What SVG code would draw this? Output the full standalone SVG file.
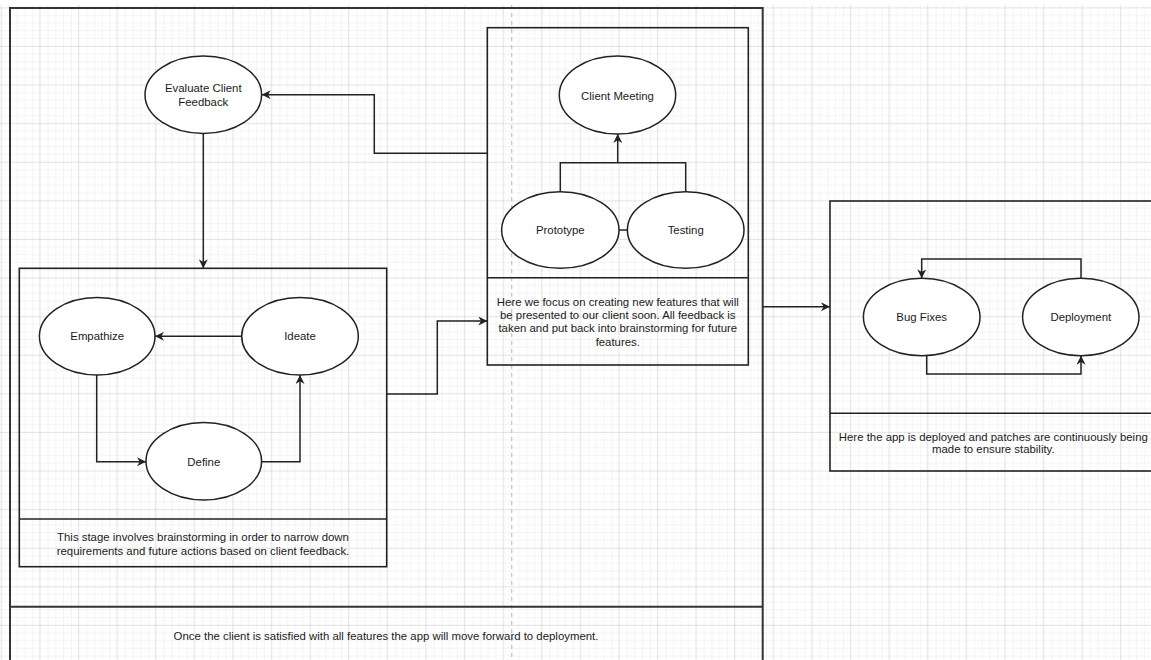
<svg xmlns="http://www.w3.org/2000/svg" width="1151" height="660" viewBox="0 0 1151 660">
  <style>
    .frame { fill: none; stroke: #333; stroke-width: 2; }
    .box { fill: none; stroke: #222; stroke-width: 1.6; }
    .node { fill: #fff; stroke: #222; stroke-width: 1.5; }
    .edge { fill: none; stroke: #222; stroke-width: 1.5; }
    .arrow { marker-end: url(#arr); }
    text { font-family: "Liberation Sans", Arial, sans-serif; font-size: 11.4px; fill: #1a1a1a; text-anchor: middle; }
  </style>
  <defs>
    <pattern id="minor" patternUnits="userSpaceOnUse" x="0.7" y="7.4" width="7.72" height="7.72">
      <path d="M0,0 H7.72 M0,0 V7.72" fill="none" stroke="#e9e9e9" stroke-width="1"/>
    </pattern>
    <pattern id="major" patternUnits="userSpaceOnUse" x="0.7" y="7.4" width="38.6" height="38.6">
      <rect width="38.6" height="38.6" fill="url(#minor)"/>
      <path d="M0,0 H38.6 M0,0 V38.6" fill="none" stroke="#d2d2d2" stroke-width="1"/>
    </pattern>
    <marker id="arr" viewBox="0 0 10 10" refX="10" refY="5" markerWidth="9" markerHeight="9" markerUnits="userSpaceOnUse" orient="auto">
      <path d="M0,0 L10,5 L0,10 L3,5 z" fill="#222"/>
    </marker>
  </defs>

  <!-- canvas and grid -->
  <rect width="1151" height="660" fill="#fff"/>
  <rect x="0" y="5" width="1151" height="655" fill="url(#major)"/>
  <line x1="511.7" y1="5" x2="511.7" y2="660" stroke="#c4c4c4" stroke-width="1.2" stroke-dasharray="4 4"/>

  <!-- outer container with footer strip -->
  <g id="container">
    <path class="frame" d="M10,668 V8 H762.7 V668"/>
    <line class="frame" x1="10" y1="606.7" x2="762.7" y2="606.7"/>
    <text x="386" y="640">Once the client is satisfied with all features the app will move forward to deployment.</text>
  </g>

  <!-- stage boxes -->
  <g id="brainstorm-stage">
    <rect class="box" x="19.3" y="268.3" width="367.4" height="298.4"/>
    <line class="box" x1="19.3" y1="519" x2="386.7" y2="519"/>
    <text x="203" y="540.7">This stage involves brainstorming in order to narrow down</text>
    <text x="203" y="555">requirements and future actions based on client feedback.</text>
  </g>
  <g id="prototype-stage">
    <rect class="box" x="487.3" y="27.7" width="261" height="337.3"/>
    <line class="box" x1="487.3" y1="277.7" x2="748.3" y2="277.7"/>
    <text x="617.8" y="305.7">Here we focus on creating new features that will</text>
    <text x="617.8" y="319">be presented to our client soon. All feedback is</text>
    <text x="617.8" y="332.3">taken and put back into brainstorming for future</text>
    <text x="617.8" y="345.7">features.</text>
  </g>
  <g id="deployment-stage">
    <rect class="box" x="830" y="201" width="327" height="270"/>
    <line class="box" x1="830" y1="413.3" x2="1157" y2="413.3"/>
    <text x="993.3" y="440.7">Here the app is deployed and patches are continuously being</text>
    <text x="993.3" y="453.3">made to ensure stability.</text>
  </g>

  <!-- connectors -->
  <g id="connectors">
    <path class="edge arrow" d="M487.3,153.3 H374.3 V94.7 H261.7"/>
    <path class="edge arrow" d="M203.3,133.3 V268.3"/>
    <path class="edge arrow" d="M386.7,394 H437.3 V321 H487.3"/>
    <path class="edge arrow" d="M762.7,306.7 H830"/>
    <path class="edge arrow" d="M241.7,336.3 H155"/>
    <path class="edge arrow" d="M96.7,375 V461.7 H146"/>
    <path class="edge arrow" d="M261.7,461.7 H300 V375"/>
    <path class="edge" d="M619,230 H627.3"/>
    <path class="edge" d="M560.3,191.7 V162.7 H685.7 V191.7"/>
    <path class="edge arrow" d="M617.7,162.7 V134"/>
    <path class="edge arrow" d="M1081,278.3 V259 H921.7 V278.3"/>
    <path class="edge arrow" d="M926.7,355.7 V374 H1081 V355.7"/>
  </g>

  <!-- nodes -->
  <g id="evaluate-feedback">
    <ellipse class="node" cx="203.3" cy="94.7" rx="58.3" ry="38.7"/>
    <text x="203.3" y="92.3">Evaluate Client</text>
    <text x="203.3" y="105.7">Feedback</text>
  </g>
  <g id="empathize">
    <ellipse class="node" cx="97.2" cy="336.3" rx="57.8" ry="38.7"/>
    <text x="97.2" y="340.3">Empathize</text>
  </g>
  <g id="ideate">
    <ellipse class="node" cx="300" cy="336.3" rx="58.3" ry="38.7"/>
    <text x="300" y="340.3">Ideate</text>
  </g>
  <g id="define">
    <ellipse class="node" cx="203.8" cy="461.3" rx="57.8" ry="38.7"/>
    <text x="203.8" y="465.5">Define</text>
  </g>
  <g id="client-meeting">
    <ellipse class="node" cx="617.5" cy="95" rx="58.2" ry="39"/>
    <text x="617.5" y="99.5">Client Meeting</text>
  </g>
  <g id="prototype">
    <ellipse class="node" cx="560.3" cy="230" rx="58.7" ry="38.3"/>
    <text x="560.3" y="234">Prototype</text>
  </g>
  <g id="testing">
    <ellipse class="node" cx="685.7" cy="230" rx="58.3" ry="38.3"/>
    <text x="685.7" y="234">Testing</text>
  </g>
  <g id="bug-fixes">
    <ellipse class="node" cx="921.7" cy="317" rx="58.3" ry="38.7"/>
    <text x="921.7" y="321">Bug Fixes</text>
  </g>
  <g id="deployment">
    <ellipse class="node" cx="1080.8" cy="317" rx="58.2" ry="38.7"/>
    <text x="1080.8" y="321">Deployment</text>
  </g>
</svg>
